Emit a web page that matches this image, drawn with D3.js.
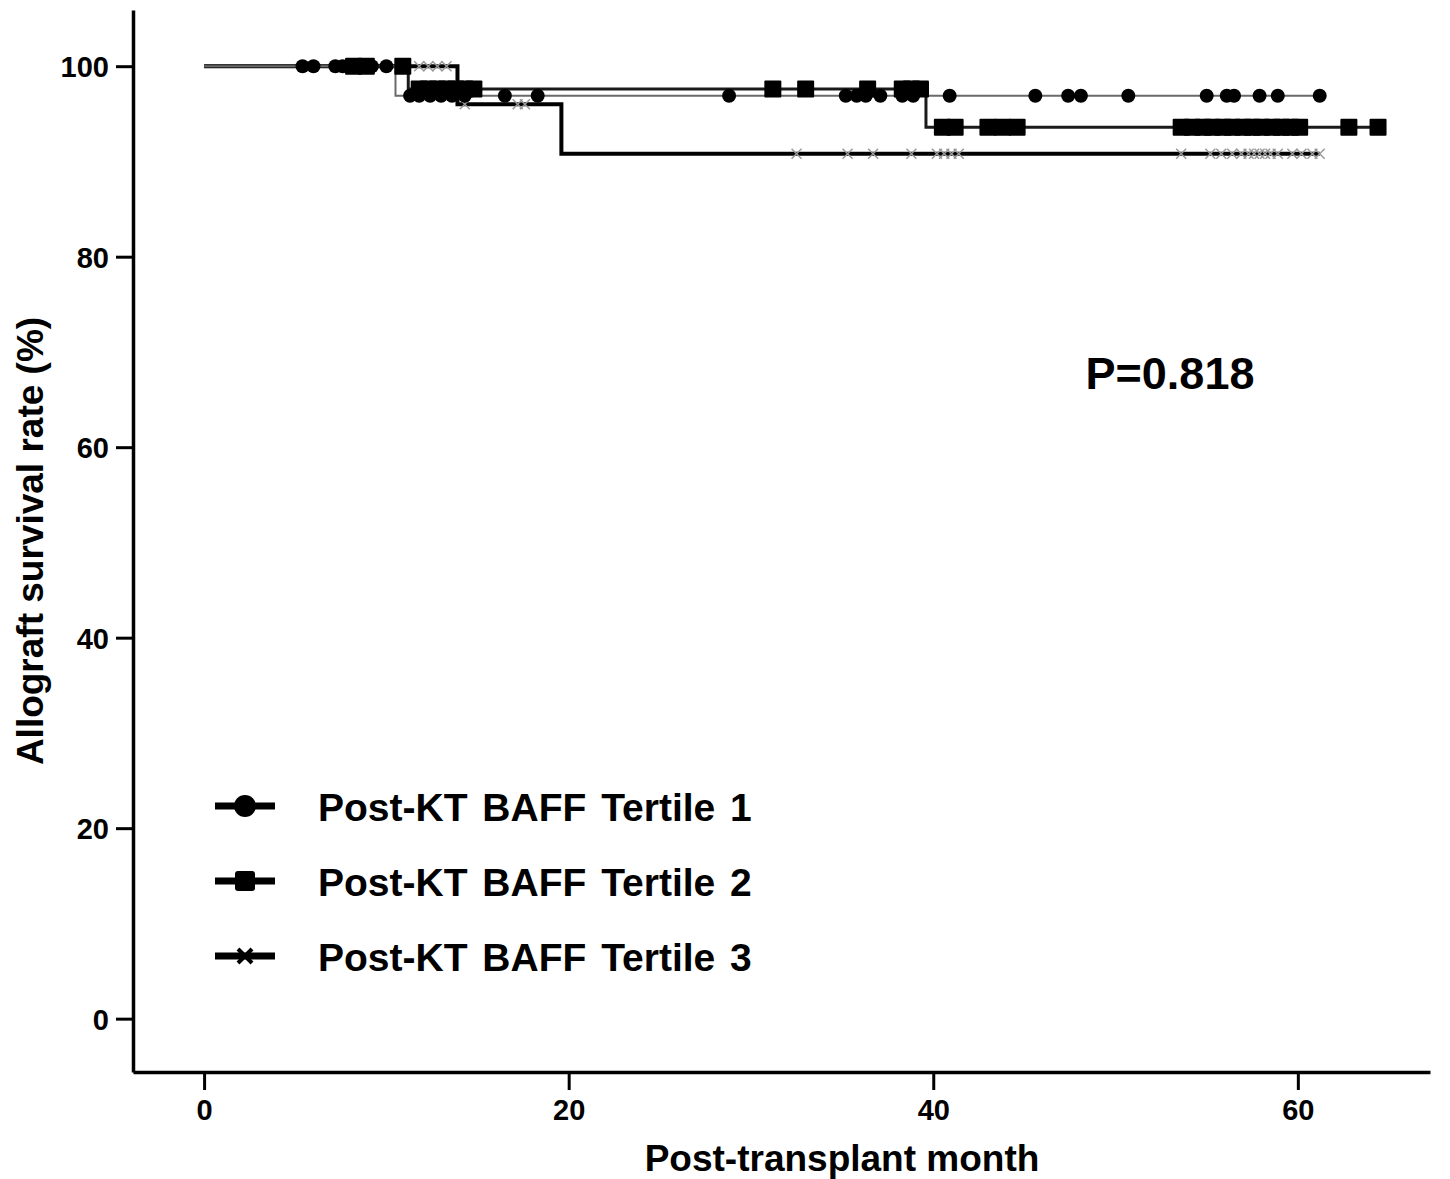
<!DOCTYPE html>
<html>
<head>
<meta charset="utf-8">
<script src="https://cdn.jsdelivr.net/npm/d3@7"></script>
<style>
  body { margin: 0; background: #fff; }
  svg { display: block; font-family: "Liberation Sans", Arial, sans-serif; font-weight: bold; }
</style>
</head>
<body>
<svg id="chart" width="1450" height="1179"></svg>
<script>
// group names
var groups = ["Post-KT BAFF Tertile 1", "Post-KT BAFF Tertile 2", "Post-KT BAFF Tertile 3"];

// step times (months) and survival (%) after each step
var t1Times = [0, 10.5];
var t1Surv = [100, 96.9];
var t1End = 61.2;
var t2Times = [0, 11.2, 39.6];
var t2Surv = [100, 97.6, 93.6];
var t2End = 64.4;
var t3Times = [0, 13.9, 19.6];
var t3Surv = [100, 96.0, 90.8];
var t3End = 61.2;

// censored observations (months)
var t1Censor = [5.4, 6.0, 7.2, 7.6, 8.0, 8.6, 9.2, 10.0, 11.3, 11.8, 12.4, 13.0, 13.6, 14.3, 16.5, 18.3,
  28.8, 35.2, 35.8, 36.3, 37.1, 38.3, 38.9, 40.9, 45.6, 47.4, 48.1, 50.7, 55.0, 56.1, 56.5, 57.9, 58.9, 61.2];
var t2Censor = [8.2, 8.9, 10.9, 11.8, 12.3, 12.8, 13.3, 13.8, 14.3, 14.8, 31.2, 33.0, 36.4, 38.3, 38.8, 39.3,
  40.5, 41.2, 43.0, 43.8, 44.6, 53.6, 54.2, 54.8, 55.3, 55.9, 56.4, 57.0, 57.5, 58.0, 58.6, 59.1, 59.6, 60.1, 62.8, 64.4];
var t3Censor = [11.8, 12.3, 12.8, 13.3, 14.3, 17.2, 17.6, 32.5, 35.3, 36.7, 38.8, 40.2, 40.6, 41.0, 41.4,
  53.6, 55.2, 55.8, 56.4, 56.9, 57.3, 57.6, 57.9, 58.2, 58.5, 58.9, 59.7, 60.2, 60.8, 61.2];

var xTicks = [0, 20, 40, 60];
var yTicks = [0, 20, 40, 60, 80, 100];

var svg = d3.select("#chart");

var x = d3.scaleLinear().domain([-3.9, 67.25]).range([133, 1430]);
var y = d3.scaleLinear().domain([-5.6, 105.9]).range([1072, 10]);

// axes
var yAxis = d3.axisLeft(y).tickValues(yTicks).tickSizeInner(17).tickSizeOuter(0).tickPadding(7);
var xAxis = d3.axisBottom(x).tickValues(xTicks).tickSizeInner(18).tickSizeOuter(0).tickPadding(8);

var gy = svg.append("g").attr("transform", "translate(133,0)").call(yAxis);
var gx = svg.append("g").attr("transform", "translate(0,1072)").call(xAxis);
[gx, gy].forEach(function(g) {
  g.select(".domain").attr("stroke", "#000").attr("stroke-width", 3.5);
  g.selectAll(".tick line").attr("stroke", "#000").attr("stroke-width", 3);
  g.selectAll(".tick text").attr("fill", "#000").attr("font-size", 29)
    .attr("font-family", "Liberation Sans, Arial, sans-serif").attr("font-weight", "bold");
});
gy.selectAll(".tick text").attr("dy", "0.36em");
gx.selectAll(".tick text").attr("dy", "0.75em");

svg.append("text").attr("x", 842).attr("y", 1171).attr("text-anchor", "middle")
  .attr("font-size", 37).text("Post-transplant month");
svg.append("text").attr("transform", "translate(43,541) rotate(-90)").attr("text-anchor", "middle")
  .attr("font-size", 37).text("Allograft survival rate (%)");

svg.append("text").attr("x", 1170).attr("y", 389).attr("text-anchor", "middle")
  .attr("font-size", 45).text("P=0.818");

function stepPoints(times, surv, end) {
  var pts = [];
  for (var i = 0; i < times.length; i++) {
    pts.push([times[i], surv[i]]);
    var next = i + 1 < times.length ? times[i + 1] : end;
    pts.push([next, surv[i]]);
  }
  return pts;
}
function survAt(times, surv, t) {
  var s = surv[0];
  for (var i = 0; i < times.length; i++) if (t >= times[i]) s = surv[i];
  return s;
}

var line = d3.line().x(function(d) { return x(d[0]); }).y(function(d) { return y(d[1]); });

var series = [
  { times: t1Times, surv: t1Surv, end: t1End, censor: t1Censor, stroke: "#6a6a6a", width: 2, mark: "circle" },
  { times: t2Times, surv: t2Surv, end: t2End, censor: t2Censor, stroke: "#1a1a1a", width: 3, mark: "square" },
  { times: t3Times, surv: t3Surv, end: t3End, censor: t3Censor, stroke: "#000", width: 4, mark: "cross" }
];

// draw lines (thickest first so thin ones stay visible)
series.slice().reverse().forEach(function(s) {
  svg.append("path").datum(stepPoints(s.times, s.surv, s.end))
    .attr("fill", "none").attr("stroke", s.stroke).attr("stroke-width", s.width).attr("d", line);
});

function drawMark(g, kind, cx, cy, big) {
  if (kind === "circle") {
    g.append("circle").attr("cx", cx).attr("cy", cy).attr("r", big ? 11 : 7).attr("fill", "#000");
  } else if (kind === "square") {
    var s = big ? 20 : 17;
    g.append("rect").attr("x", cx - s / 2).attr("y", cy - s / 2).attr("width", s).attr("height", s)
      .attr("rx", big ? 3 : 1).attr("fill", "#000");
  } else {
    var h = big ? 7 : 5, c = big ? "#000" : "#999";
    g.append("path").attr("d", "M" + (cx - h) + "," + (cy - h) + "L" + (cx + h) + "," + (cy + h) +
      "M" + (cx - h) + "," + (cy + h) + "L" + (cx + h) + "," + (cy - h))
      .attr("stroke", c).attr("stroke-width", big ? 4 : 1.5).attr("fill", "none");
  }
}

// censor marks
[series[2], series[0], series[1]].forEach(function(s) {
  var g = svg.append("g");
  s.censor.forEach(function(t) {
    drawMark(g, s.mark, x(t), y(survAt(s.times, s.surv, t)), false);
  });
});

// legend
var legend = svg.append("g");
groups.forEach(function(name, i) {
  var ly = 806 + i * 75;
  legend.append("line").attr("x1", 215).attr("x2", 275).attr("y1", ly).attr("y2", ly)
    .attr("stroke", "#000").attr("stroke-width", 7);
  drawMark(legend, series[i].mark, 245, ly, true);
  legend.append("text").attr("x", 318).attr("y", ly + 15).attr("font-size", 39)
    .attr("word-spacing", 4).text(name);
});
</script>
</body>
</html>
